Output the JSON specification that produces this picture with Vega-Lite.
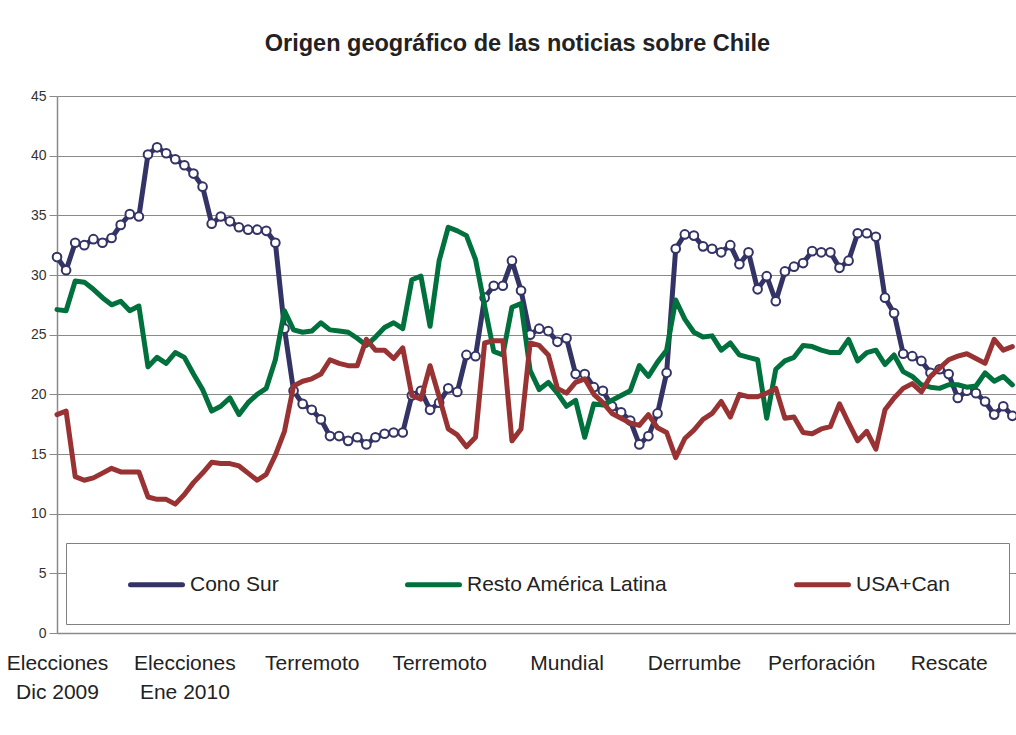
{
  "$schema": "https://vega.github.io/schema/vega-lite/v6.json",
  "autosize": {"type": "none"},
  "padding": {"left": 57, "top": 96, "right": 0, "bottom": 102},
  "width": 959,
  "height": 537,
  "background": "white",
  "config": {"font": "Liberation Sans", "view": {"stroke": null}},
  "title": {"text": "Origen geográfico de las noticias sobre Chile", "fontSize": 23.5, "fontWeight": "bold", "font": "Liberation Sans", "color": "#222222", "anchor": "middle", "offset": 34, "dx": -19},
  "data": {"values": [
    {"i":0,"Cono Sur":31.5,"Resto América Latina":27.1,"USA+Can":18.3},
    {"i":1,"Cono Sur":30.4,"Resto América Latina":27.0,"USA+Can":18.6},
    {"i":2,"Cono Sur":32.7,"Resto América Latina":29.5,"USA+Can":13.1},
    {"i":3,"Cono Sur":32.5,"Resto América Latina":29.4,"USA+Can":12.8},
    {"i":4,"Cono Sur":33.0,"Resto América Latina":28.8,"USA+Can":13.0},
    {"i":5,"Cono Sur":32.7,"Resto América Latina":28.1,"USA+Can":13.4},
    {"i":6,"Cono Sur":33.1,"Resto América Latina":27.5,"USA+Can":13.8},
    {"i":7,"Cono Sur":34.2,"Resto América Latina":27.8,"USA+Can":13.5},
    {"i":8,"Cono Sur":35.1,"Resto América Latina":27.0,"USA+Can":13.5},
    {"i":9,"Cono Sur":34.9,"Resto América Latina":27.4,"USA+Can":13.5},
    {"i":10,"Cono Sur":40.1,"Resto América Latina":22.3,"USA+Can":11.4},
    {"i":11,"Cono Sur":40.7,"Resto América Latina":23.1,"USA+Can":11.2},
    {"i":12,"Cono Sur":40.2,"Resto América Latina":22.6,"USA+Can":11.2},
    {"i":13,"Cono Sur":39.7,"Resto América Latina":23.5,"USA+Can":10.8},
    {"i":14,"Cono Sur":39.2,"Resto América Latina":23.1,"USA+Can":11.6},
    {"i":15,"Cono Sur":38.5,"Resto América Latina":21.7,"USA+Can":12.6},
    {"i":16,"Cono Sur":37.4,"Resto América Latina":20.4,"USA+Can":13.4},
    {"i":17,"Cono Sur":34.3,"Resto América Latina":18.6,"USA+Can":14.3},
    {"i":18,"Cono Sur":34.9,"Resto América Latina":19.0,"USA+Can":14.2},
    {"i":19,"Cono Sur":34.5,"Resto América Latina":19.7,"USA+Can":14.2},
    {"i":20,"Cono Sur":34.0,"Resto América Latina":18.3,"USA+Can":14.0},
    {"i":21,"Cono Sur":33.8,"Resto América Latina":19.3,"USA+Can":13.4},
    {"i":22,"Cono Sur":33.8,"Resto América Latina":20.0,"USA+Can":12.8},
    {"i":23,"Cono Sur":33.7,"Resto América Latina":20.5,"USA+Can":13.3},
    {"i":24,"Cono Sur":32.7,"Resto América Latina":22.9,"USA+Can":14.9},
    {"i":25,"Cono Sur":25.5,"Resto América Latina":27.0,"USA+Can":16.9},
    {"i":26,"Cono Sur":20.3,"Resto América Latina":25.4,"USA+Can":20.7},
    {"i":27,"Cono Sur":19.2,"Resto América Latina":25.2,"USA+Can":21.1},
    {"i":28,"Cono Sur":18.7,"Resto América Latina":25.3,"USA+Can":21.3},
    {"i":29,"Cono Sur":17.9,"Resto América Latina":26.0,"USA+Can":21.7},
    {"i":30,"Cono Sur":16.5,"Resto América Latina":25.4,"USA+Can":22.9},
    {"i":31,"Cono Sur":16.5,"Resto América Latina":25.3,"USA+Can":22.6},
    {"i":32,"Cono Sur":16.1,"Resto América Latina":25.2,"USA+Can":22.4},
    {"i":33,"Cono Sur":16.4,"Resto América Latina":24.7,"USA+Can":22.4},
    {"i":34,"Cono Sur":15.8,"Resto América Latina":24.1,"USA+Can":24.6},
    {"i":35,"Cono Sur":16.4,"Resto América Latina":24.8,"USA+Can":23.7},
    {"i":36,"Cono Sur":16.7,"Resto América Latina":25.6,"USA+Can":23.7},
    {"i":37,"Cono Sur":16.8,"Resto América Latina":26.0,"USA+Can":23.0},
    {"i":38,"Cono Sur":16.8,"Resto América Latina":25.5,"USA+Can":23.9},
    {"i":39,"Cono Sur":19.9,"Resto América Latina":29.6,"USA+Can":19.9},
    {"i":40,"Cono Sur":20.3,"Resto América Latina":29.9,"USA+Can":19.6},
    {"i":41,"Cono Sur":18.7,"Resto América Latina":25.7,"USA+Can":22.4},
    {"i":42,"Cono Sur":19.3,"Resto América Latina":31.2,"USA+Can":19.8},
    {"i":43,"Cono Sur":20.5,"Resto América Latina":34.0,"USA+Can":17.1},
    {"i":44,"Cono Sur":20.2,"Resto América Latina":33.7,"USA+Can":16.6},
    {"i":45,"Cono Sur":23.3,"Resto América Latina":33.3,"USA+Can":15.6},
    {"i":46,"Cono Sur":23.2,"Resto América Latina":31.3,"USA+Can":16.4},
    {"i":47,"Cono Sur":28.1,"Resto América Latina":27.4,"USA+Can":24.3},
    {"i":48,"Cono Sur":29.1,"Resto América Latina":23.6,"USA+Can":24.5},
    {"i":49,"Cono Sur":29.1,"Resto América Latina":23.3,"USA+Can":24.5},
    {"i":50,"Cono Sur":31.2,"Resto América Latina":27.3,"USA+Can":16.1},
    {"i":51,"Cono Sur":28.7,"Resto América Latina":27.6,"USA+Can":17.1},
    {"i":52,"Cono Sur":25.0,"Resto América Latina":22.0,"USA+Can":24.3},
    {"i":53,"Cono Sur":25.5,"Resto América Latina":20.4,"USA+Can":24.1},
    {"i":54,"Cono Sur":25.3,"Resto América Latina":21.0,"USA+Can":23.3},
    {"i":55,"Cono Sur":24.4,"Resto América Latina":20.1,"USA+Can":20.5},
    {"i":56,"Cono Sur":24.7,"Resto América Latina":19.0,"USA+Can":20.1},
    {"i":57,"Cono Sur":21.7,"Resto América Latina":19.5,"USA+Can":21.0},
    {"i":58,"Cono Sur":21.7,"Resto América Latina":16.4,"USA+Can":21.3},
    {"i":59,"Cono Sur":20.6,"Resto América Latina":19.2,"USA+Can":20.0},
    {"i":60,"Cono Sur":20.3,"Resto América Latina":19.1,"USA+Can":19.3},
    {"i":61,"Cono Sur":19.0,"Resto América Latina":19.5,"USA+Can":18.4},
    {"i":62,"Cono Sur":18.5,"Resto América Latina":19.9,"USA+Can":18.0},
    {"i":63,"Cono Sur":17.8,"Resto América Latina":20.3,"USA+Can":17.6},
    {"i":64,"Cono Sur":15.8,"Resto América Latina":22.4,"USA+Can":17.4},
    {"i":65,"Cono Sur":16.5,"Resto América Latina":21.5,"USA+Can":18.3},
    {"i":66,"Cono Sur":18.4,"Resto América Latina":22.7,"USA+Can":17.2},
    {"i":67,"Cono Sur":21.8,"Resto América Latina":23.7,"USA+Can":16.8},
    {"i":68,"Cono Sur":32.2,"Resto América Latina":27.9,"USA+Can":14.7},
    {"i":69,"Cono Sur":33.4,"Resto América Latina":26.3,"USA+Can":16.3},
    {"i":70,"Cono Sur":33.3,"Resto América Latina":25.2,"USA+Can":17.0},
    {"i":71,"Cono Sur":32.4,"Resto América Latina":24.8,"USA+Can":17.9},
    {"i":72,"Cono Sur":32.2,"Resto América Latina":24.9,"USA+Can":18.4},
    {"i":73,"Cono Sur":31.9,"Resto América Latina":23.7,"USA+Can":19.4},
    {"i":74,"Cono Sur":32.5,"Resto América Latina":24.3,"USA+Can":18.1},
    {"i":75,"Cono Sur":30.9,"Resto América Latina":23.3,"USA+Can":20.0},
    {"i":76,"Cono Sur":31.9,"Resto América Latina":23.1,"USA+Can":19.8},
    {"i":77,"Cono Sur":28.8,"Resto América Latina":22.9,"USA+Can":19.8},
    {"i":78,"Cono Sur":29.9,"Resto América Latina":18.0,"USA+Can":20.1},
    {"i":79,"Cono Sur":27.8,"Resto América Latina":22.1,"USA+Can":20.5},
    {"i":80,"Cono Sur":30.3,"Resto América Latina":22.8,"USA+Can":18.0},
    {"i":81,"Cono Sur":30.7,"Resto América Latina":23.1,"USA+Can":18.1},
    {"i":82,"Cono Sur":31.0,"Resto América Latina":24.1,"USA+Can":16.8},
    {"i":83,"Cono Sur":32.0,"Resto América Latina":24.0,"USA+Can":16.7},
    {"i":84,"Cono Sur":31.9,"Resto América Latina":23.7,"USA+Can":17.1},
    {"i":85,"Cono Sur":31.9,"Resto América Latina":23.5,"USA+Can":17.3},
    {"i":86,"Cono Sur":30.6,"Resto América Latina":23.5,"USA+Can":19.2},
    {"i":87,"Cono Sur":31.2,"Resto América Latina":24.6,"USA+Can":17.6},
    {"i":88,"Cono Sur":33.5,"Resto América Latina":22.8,"USA+Can":16.1},
    {"i":89,"Cono Sur":33.5,"Resto América Latina":23.5,"USA+Can":16.9},
    {"i":90,"Cono Sur":33.2,"Resto América Latina":23.7,"USA+Can":15.4},
    {"i":91,"Cono Sur":28.1,"Resto América Latina":22.5,"USA+Can":18.7},
    {"i":92,"Cono Sur":26.8,"Resto América Latina":23.3,"USA+Can":19.7},
    {"i":93,"Cono Sur":23.4,"Resto América Latina":21.9,"USA+Can":20.5},
    {"i":94,"Cono Sur":23.2,"Resto América Latina":21.5,"USA+Can":20.9},
    {"i":95,"Cono Sur":22.8,"Resto América Latina":20.8,"USA+Can":20.2},
    {"i":96,"Cono Sur":21.8,"Resto América Latina":20.6,"USA+Can":21.5},
    {"i":97,"Cono Sur":22.1,"Resto América Latina":20.5,"USA+Can":22.2},
    {"i":98,"Cono Sur":21.7,"Resto América Latina":20.8,"USA+Can":22.9},
    {"i":99,"Cono Sur":19.7,"Resto América Latina":20.8,"USA+Can":23.2},
    {"i":100,"Cono Sur":20.3,"Resto América Latina":20.6,"USA+Can":23.4},
    {"i":101,"Cono Sur":20.1,"Resto América Latina":20.7,"USA+Can":23.0},
    {"i":102,"Cono Sur":19.4,"Resto América Latina":21.8,"USA+Can":22.6},
    {"i":103,"Cono Sur":18.3,"Resto América Latina":21.1,"USA+Can":24.6},
    {"i":104,"Cono Sur":19.0,"Resto América Latina":21.5,"USA+Can":23.7},
    {"i":105,"Cono Sur":18.2,"Resto América Latina":20.8,"USA+Can":24.0}
  ]},
  "encoding": {
    "x": {"field": "i", "type": "quantitative",
      "scale": {"domain": [0, 105.4], "nice": false, "zero": false},
      "axis": {"values": [0, 14, 28, 42, 56, 70, 84, 98], "title": null, "grid": false, "ticks": false,
        "domainColor": "#8a8a8a", "domainWidth": 1.5,
        "labelExpr": "datum.value == 0 ? ['Elecciones', 'Dic 2009'] : datum.value == 14 ? ['Elecciones', 'Ene 2010'] : datum.value == 28 ? 'Terremoto' : datum.value == 42 ? 'Terremoto' : datum.value == 56 ? 'Mundial' : datum.value == 70 ? 'Derrumbe' : datum.value == 84 ? 'Perforación' : 'Rescate'",
        "labelFont": "Liberation Sans", "labelFontSize": 21, "labelColor": "#222222", "labelLineHeight": 29,
        "labelPadding": 19, "labelOverlap": false, "labelFlush": false, "labelBound": false}}
  },
  "layer": [
    {
      "transform": [{"fold": ["Cono Sur", "Resto América Latina", "USA+Can"], "as": ["serie", "valor"]}, {"filter": "datum.serie === 'Cono Sur'"}],
      "mark": {"type": "line", "strokeWidth": 5, "strokeJoin": "round", "strokeCap": "round"},
      "encoding": {
        "y": {"field": "valor", "type": "quantitative",
          "scale": {"domain": [0, 45], "nice": false},
          "axis": {"values": [0, 5, 10, 15, 20, 25, 30, 35, 40, 45], "title": null, "grid": true,
            "gridColor": "#8a8a8a", "gridWidth": 1.2, "domainColor": "#8a8a8a", "domainWidth": 1.5,
            "tickColor": "#8a8a8a", "tickSize": 8, "labelPadding": 3,
            "labelFont": "Liberation Sans", "labelFontSize": 14, "labelColor": "#333333"}},
        "color": {"field": "serie", "type": "nominal",
          "scale": {"domain": ["Cono Sur", "Resto América Latina", "USA+Can"], "range": ["#333366", "#00703C", "#993333"]},
          "legend": {"orient": "none", "legendX": 9, "legendY": 447, "direction": "horizontal", "title": null,
            "symbolType": "M-2.6,0H2.6", "symbolSize": 400, "symbolStrokeWidth": 5, "symbolOffset": 49,
            "labelFont": "Liberation Sans", "labelFontSize": 21, "labelColor": "#222222", "labelOffset": 21, "labelLimit": 400,
            "labelExpr": "datum.label == 'USA+Can' ? 'USA+Can\u00a0\u00a0\u00a0\u00a0\u00a0\u200b' : datum.label",
            "columnPadding": 93, "padding": 29, "strokeColor": "#808080", "fillColor": "white",
            "encode": {"symbols": {"update": {"strokeCap": {"value": "round"}}}}}}
      }
    },
    {
      "mark": {"type": "point", "filled": true, "fill": "white", "stroke": "#333366", "strokeWidth": 2, "size": 75, "opacity": 1},
      "encoding": {"y": {"field": "Cono Sur", "type": "quantitative"}}
    },
    {
      "transform": [{"fold": ["Cono Sur", "Resto América Latina", "USA+Can"], "as": ["serie", "valor"]}, {"filter": "datum.serie !== 'Cono Sur'"}],
      "mark": {"type": "line", "strokeWidth": 5, "strokeJoin": "round", "strokeCap": "round"},
      "encoding": {
        "y": {"field": "valor", "type": "quantitative"},
        "color": {"field": "serie", "type": "nominal"}
      }
    }
  ]
}
